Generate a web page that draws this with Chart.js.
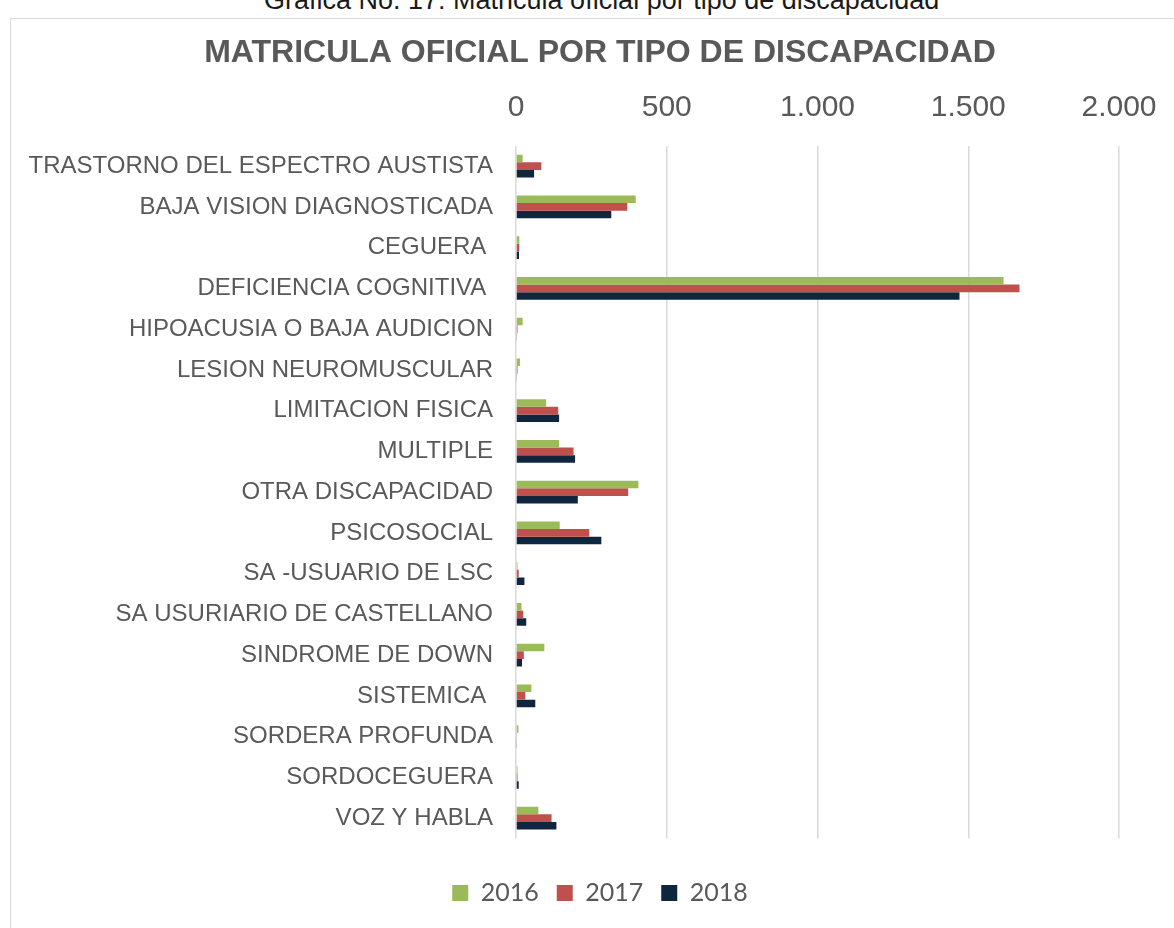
<!DOCTYPE html>
<html>
<head>
<meta charset="utf-8">
<script src="https://cdn.jsdelivr.net/npm/chart.js@4"></script>
<style>
  body { margin: 0; background: #fff; overflow: hidden; }
  #caption {
    position: absolute; left: 264px; top: -13px;
    font: 27px "Liberation Sans", Arial, sans-serif; line-height: 27px;
    color: #1a1a1a; white-space: nowrap;
  }
  #frame {
    position: absolute; left: 10px; top: 18px; width: 1200px; height: 950px;
    border: 1.5px solid #d9d9d9; box-sizing: border-box;
  }
  #wrap { position: absolute; left: 0; top: 0; width: 1200px; height: 928px; }
</style>
</head>
<body>
<div id="caption">Grafica No. 17: Matricula oficial por tipo de discapacidad</div>
<div id="frame"></div>
<div id="wrap"><canvas id="barCanvas"></canvas></div>
<script>
const categories = [
  "TRASTORNO DEL ESPECTRO AUSTISTA",
  "BAJA VISION DIAGNOSTICADA",
  "CEGUERA ",
  "DEFICIENCIA COGNITIVA ",
  "HIPOACUSIA O BAJA AUDICION",
  "LESION NEUROMUSCULAR",
  "LIMITACION FISICA",
  "MULTIPLE",
  "OTRA DISCAPACIDAD",
  "PSICOSOCIAL",
  "SA -USUARIO DE LSC",
  "SA USURIARIO DE CASTELLANO",
  "SINDROME DE DOWN",
  "SISTEMICA ",
  "SORDERA PROFUNDA",
  "SORDOCEGUERA",
  "VOZ Y HABLA"
];
const years = ["2016", "2017", "2018"];
const values2016 = [22, 397, 11, 1617, 22, 13, 100, 143, 406, 145, 5, 18, 94, 51, 8, 5, 74];
const values2017 = [84, 369, 11, 1670, 5, 5, 140, 191, 372, 243, 9, 24, 26, 31, 2, 5, 118];
const values2018 = [60, 316, 10, 1471, 2, 2, 143, 196, 205, 283, 28, 34, 20, 64, 2, 9, 134];
const xTicks = [0, 500, 1000, 1500, 2000];

const gray = "#595959";
const sans = "'Liberation Sans', Arial, sans-serif";

function miles(v) {
  return String(v).replace(/\B(?=(\d{3})+(?!\d))/g, ".");
}

const barCanvas = document.getElementById("barCanvas");
const barChart = new Chart(barCanvas, {
  type: "bar",
  data: {
    labels: categories,
    datasets: [
      { label: years[0], data: values2016, backgroundColor: "#9BBB59", yAxisID: "y" },
      { label: years[1], data: values2017, backgroundColor: "#C0504D", yAxisID: "y" },
      { label: years[2], data: values2018, backgroundColor: "#10263F", yAxisID: "y" }
    ]
  },
  options: {
    indexAxis: "y",
    responsive: true,
    maintainAspectRatio: false,
    animation: false,
    categoryPercentage: 0.56,
    barPercentage: 1,
    layout: { padding: { top: 0, left: 0, right: 0, bottom: 12.5 } },
    scales: {
      x: {
        position: "top",
        min: xTicks[0],
        max: xTicks[xTicks.length - 1],
        afterFit: (s) => { s.height = 73.6; },
        afterBuildTicks: (s) => { s.ticks = xTicks.map(v => ({ value: v })); },
        border: { display: false },
        grid: { color: "#d9d9d9", lineWidth: 1.5, drawTicks: false },
        ticks: {
          padding: 20,
          color: gray,
          font: { family: sans, size: 30 },
          callback: (v) => miles(v)
        }
      },
      y: {
        afterFit: (s) => { s.width = 516; },
        border: { display: false },
        grid: { display: false, drawTicks: false },
        ticks: {
          padding: 23,
          color: gray,
          autoSkip: false,
          font: { family: sans, size: 24 }
        }
      },
      // empty right-hand gutter so title and legend centre on the frame
      gutter: {
        axis: "y",
        type: "category",
        position: "right",
        afterFit: (s) => { s.width = 81; },
        border: { display: false },
        grid: { display: false, drawTicks: false },
        ticks: { display: false }
      }
    },
    plugins: {
      title: {
        display: true,
        text: "MATRICULA OFICIAL POR TIPO DE DISCAPACIDAD",
        color: gray,
        font: { family: sans, size: 32, weight: "bold" },
        padding: { top: 33.8, bottom: 0 }
      },
      legend: {
        position: "bottom",
        title: { display: true, text: "", font: { size: 10 }, padding: { top: 0, bottom: 12 } },
        labels: {
          color: gray,
          boxWidth: 16,
          boxHeight: 16,
          padding: 18,
          font: { family: "Lato, 'Liberation Sans', sans-serif", size: 25 }
        }
      },
      tooltip: { enabled: false }
    }
  }
});
</script>
</body>
</html>
